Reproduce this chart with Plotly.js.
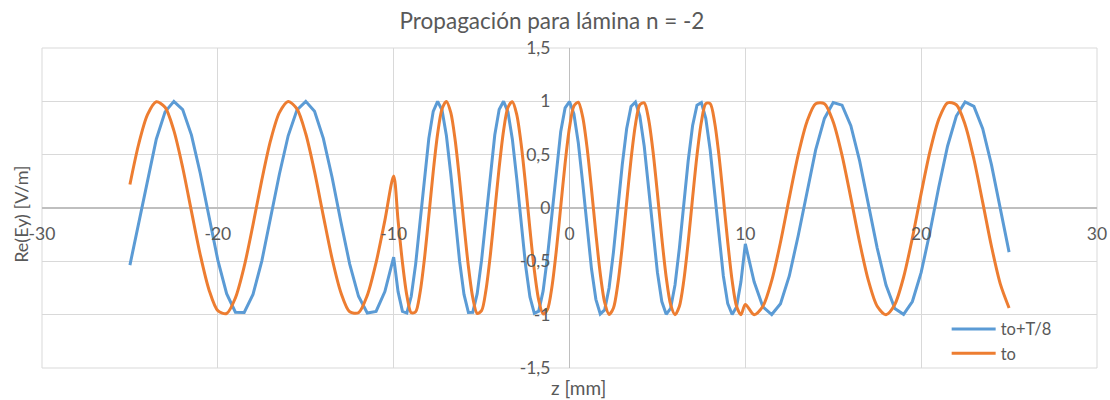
<!DOCTYPE html>
<html>
<head>
<meta charset="utf-8">
<script src="https://cdn.plot.ly/plotly-3.0.1.min.js"></script>
<style>
  html, body { margin: 0; padding: 0; background: #ffffff; }
  #chart { width: 1110px; height: 400px; }
</style>
</head>
<body>
<div id="chart"></div>
<script>
// z positions [mm]: 0.5 mm steps outside the slab, 0.25 mm steps inside it
const zValues = [
  -25, -24.5, -24, -23.5, -23, -22.5, -22, -21.5, -21, -20.5,
  -20, -19.5, -19, -18.5, -18, -17.5, -17, -16.5, -16, -15.5,
  -15, -14.5, -14, -13.5, -13, -12.5, -12, -11.5, -11, -10.5,
  -10, -9.75, -9.5, -9.25, -9, -8.75, -8.5, -8.25, -8, -7.75,
  -7.5, -7.25, -7, -6.75, -6.5, -6.25, -6, -5.75, -5.5, -5.25,
  -5, -4.75, -4.5, -4.25, -4, -3.75, -3.5, -3.25, -3, -2.75,
  -2.5, -2.25, -2, -1.75, -1.5, -1.25, -1, -0.75, -0.5, -0.25,
  0, 0.25, 0.5, 0.75, 1, 1.25, 1.5, 1.75, 2, 2.25,
  2.5, 2.75, 3, 3.25, 3.5, 3.75, 4, 4.25, 4.5, 4.75,
  5, 5.25, 5.5, 5.75, 6, 6.25, 6.5, 6.75, 7, 7.25,
  7.5, 7.75, 8, 8.25, 8.5, 8.75, 9, 9.25, 9.5, 9.75,
  10, 10.5, 11, 11.5, 12, 12.5, 13, 13.5, 14, 14.5,
  15, 15.5, 16, 16.5, 17, 17.5, 18, 18.5, 19, 19.5,
  20, 20.5, 21, 21.5, 22, 22.5, 23, 23.5, 24, 24.5,
  25
];

// Series "to" (Re(Ey) at t0)
const eyTo = [
  0.220, 0.600, 0.875, 0.996, 0.944, 0.725, 0.380, -0.032, -0.438, -0.768,
  -0.963, -0.989, -0.842, -0.548, -0.157, 0.261, 0.633, 0.894, 0.999, 0.929,
  0.696, 0.341, -0.074, -0.476, -0.794, -0.973, -0.982, -0.819, -0.512, -0.116,
  0.301, -0.116, -0.512, -0.819, -0.982, -0.973, -0.794, -0.476, -0.074, 0.341,
  0.696, 0.929, 0.999, 0.894, 0.633, 0.261, -0.158, -0.548, -0.842, -0.989,
  -0.963, -0.768, -0.438, -0.032, 0.380, 0.725, 0.944, 0.996, 0.875, 0.600,
  0.220, -0.199, -0.583, -0.864, -0.994, -0.950, -0.740, -0.400, 0.011, 0.419,
  0.754, 0.957, 0.992, 0.854, 0.566, 0.178, -0.240, -0.616, -0.885, -0.998,
  -0.937, -0.711, -0.361, 0.053, 0.457, 0.781, 0.968, 0.986, 0.831, 0.530,
  0.137, -0.281, -0.649, -0.904, -1.000, -0.921, -0.681, -0.321, 0.095, 0.494,
  0.806, 0.978, 0.978, 0.807, 0.494, 0.095, -0.321, -0.681, -0.921, -1.000,
  -0.904, -1.000, -0.921, -0.681, -0.321, 0.095, 0.494, 0.807, 0.978, 0.978,
  0.806, 0.494, 0.095, -0.321, -0.681, -0.921, -1.000, -0.904, -0.649, -0.281,
  0.137, 0.530, 0.831, 0.986, 0.968, 0.781, 0.457, 0.053, -0.361, -0.711,
  -0.937
];

// Series "to+T/8"
const eyToT8 = [
  -0.535, -0.142, 0.276, 0.645, 0.901, 1.000, 0.923, 0.684, 0.326, -0.090,
  -0.489, -0.803, -0.977, -0.979, -0.810, -0.498, -0.100, 0.316, 0.677, 0.919,
  1.000, 0.906, 0.653, 0.286, -0.132, -0.526, -0.828, -0.985, -0.969, -0.784,
  -0.461, -0.784, -0.969, -0.985, -0.828, -0.526, -0.131, 0.286, 0.653, 0.906,
  1.000, 0.919, 0.677, 0.316, -0.100, -0.499, -0.810, -0.979, -0.977, -0.803,
  -0.489, -0.090, 0.326, 0.684, 0.923, 1.000, 0.901, 0.645, 0.276, -0.142,
  -0.535, -0.834, -0.987, -0.967, -0.777, -0.452, -0.048, 0.366, 0.715, 0.938,
  0.998, 0.882, 0.612, 0.235, -0.183, -0.570, -0.856, -0.993, -0.955, -0.750,
  -0.414, -0.005, 0.405, 0.743, 0.952, 0.994, 0.862, 0.579, 0.194, -0.225,
  -0.604, -0.877, -0.997, -0.942, -0.722, -0.375, 0.037, 0.443, 0.771, 0.964,
  0.988, 0.840, 0.544, 0.153, -0.266, -0.637, -0.897, -0.999, -0.927, -0.692,
  -0.336, -0.692, -0.927, -0.999, -0.897, -0.637, -0.265, 0.153, 0.544, 0.840,
  0.988, 0.964, 0.771, 0.442, 0.037, -0.376, -0.722, -0.942, -0.997, -0.877,
  -0.604, -0.225, 0.194, 0.579, 0.862, 0.994, 0.952, 0.743, 0.404, -0.006,
  -0.414
];

const seriesNames = ["to+T/8", "to"];
const xTickVals = [-30, -20, -10, 0, 10, 20, 30];
const xTickText = ["-30", "-20", "-10", "0", "10", "20", "30"];
const yTickVals = [-1.5, -1, -0.5, 0, 0.5, 1, 1.5];
const yTickText = ["-1,5", "-1", "-0,5", "0", "0,5", "1", "1,5"];

const FONT = "Lato, 'Liberation Sans', sans-serif";
const TXT = "#595959";

const traces = [
  {
    x: zValues, y: eyToT8, name: seriesNames[0], type: "scatter", mode: "lines",
    line: { color: "#5B9BD5", width: 3 }
  },
  {
    x: zValues, y: eyTo, name: seriesNames[1], type: "scatter", mode: "lines",
    line: { color: "#ED7D31", width: 3, shape: "spline", smoothing: 0.8 }
  }
];

const layout = {
  width: 1110, height: 400,
  margin: { l: 42, r: 13, t: 48, b: 32, pad: 0 },
  paper_bgcolor: "#ffffff", plot_bgcolor: "#ffffff",
  font: { family: FONT, color: TXT, size: 17 },
  title: {
    text: "Propagación para lámina n = -2",
    font: { family: FONT, size: 22.5, color: TXT },
    x: 552 / 1110, xref: "container", xanchor: "center",
    y: 1 - 21 / 400, yref: "container", yanchor: "middle"
  },
  xaxis: {
    range: [-30, 30], tickmode: "array", tickvals: xTickVals, ticktext: xTickText,
    anchor: "free", position: 0.5,
    showgrid: true, gridcolor: "#d9d9d9", gridwidth: 1,
    zeroline: true, zerolinecolor: "#bfbfbf", zerolinewidth: 1.5,
    showline: false, ticks: "", ticklabelstandoff: 13,
    tickfont: { family: FONT, size: 17.5, color: TXT },
    fixedrange: true
  },
  yaxis: {
    range: [-1.5, 1.5], tickmode: "array", tickvals: yTickVals, ticktext: yTickText,
    anchor: "free", position: 0.5,
    showgrid: true, gridcolor: "#d9d9d9", gridwidth: 1,
    zeroline: true, zerolinecolor: "#bfbfbf", zerolinewidth: 1.5,
    showline: false, ticks: "", ticklabelstandoff: 19,
    tickfont: { family: FONT, size: 17.5, color: TXT },
    fixedrange: true
  },
  showlegend: true,
  legend: {
    x: 0.8575, xanchor: "left", y: 0.176, yanchor: "top",
    bgcolor: "rgba(0,0,0,0)", borderwidth: 0,
    font: { family: FONT, size: 16.5, color: TXT },
    itemwidth: 44,
    tracegroupgap: 0
  },
  shapes: [
    { type: "rect", xref: "paper", yref: "paper", x0: 0, x1: 1, y0: 0, y1: 1,
      line: { color: "#d9d9d9", width: 1 }, layer: "below" }
  ],
  annotations: [
    { text: "z [mm]", xref: "paper", yref: "paper", x: (578 - 42) / 1055, y: (368 - 387) / 320,
      xanchor: "center", yanchor: "middle", showarrow: false,
      font: { family: FONT, size: 19, color: TXT } },
    { text: "Re(Ey) [V/m]", xref: "paper", yref: "paper", x: -0.0195, y: 0.48,
      xanchor: "center", yanchor: "middle", textangle: -90, showarrow: false,
      font: { family: FONT, size: 18, color: TXT } }
  ]
};

Plotly.newPlot("chart", traces, layout, { displayModeBar: false, staticPlot: true });
</script>
</body>
</html>
